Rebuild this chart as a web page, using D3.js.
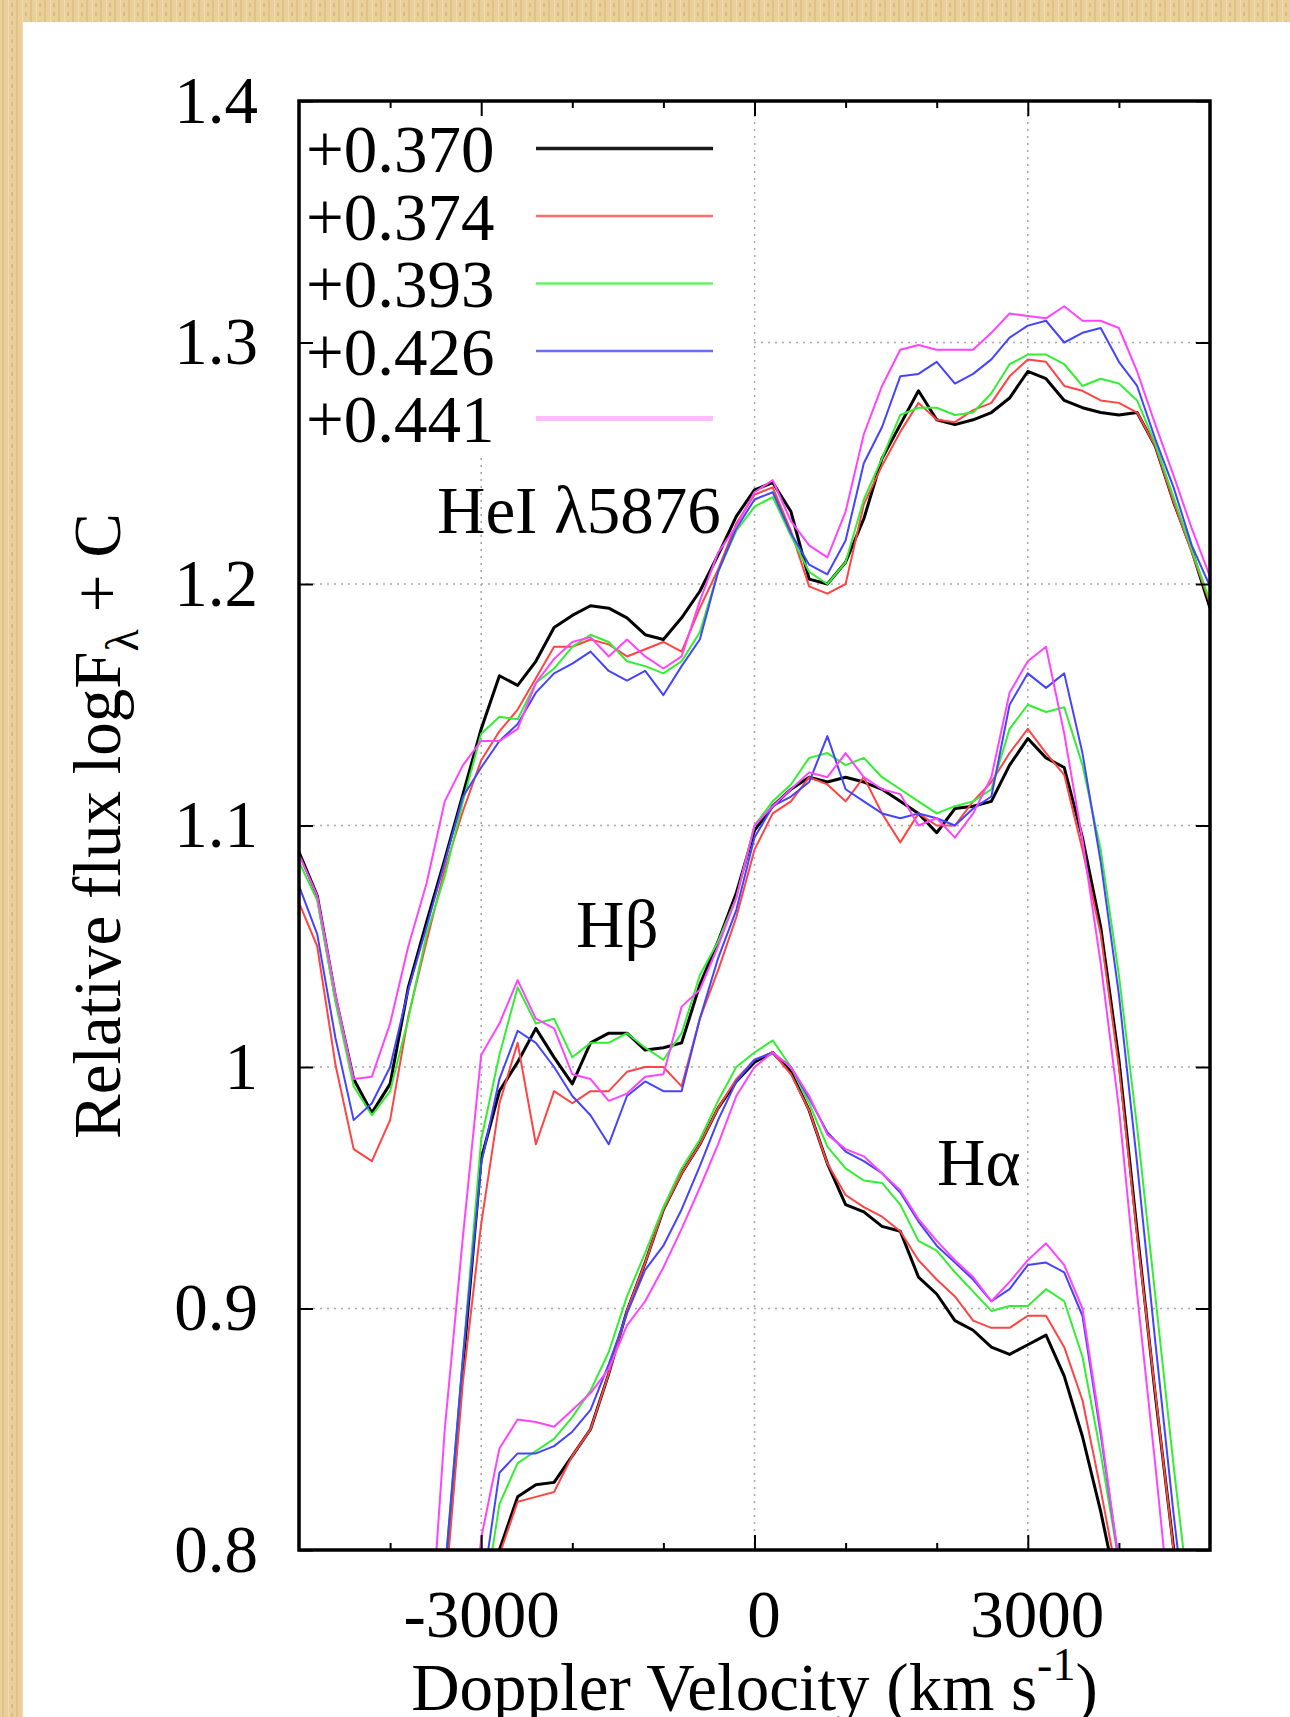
<!DOCTYPE html>
<html>
<head>
<meta charset="utf-8">
<script src="https://cdnjs.cloudflare.com/ajax/libs/d3/7.8.5/d3.min.js"></script>
<style>
  body { margin: 0; background: #e5ca93; }
  text { font-family: "Liberation Serif", "Times New Roman", serif; fill: #000; }
</style>
</head>
<body>
<div id="chart"></div>
<script>

// legend: phases of the five spectra
var phases = ["+0.370", "+0.374", "+0.393", "+0.426", "+0.441"];

// axis ticks
var yTicks = [0.8, 0.9, 1.0, 1.1, 1.2, 1.3, 1.4];
var yTickLabels = ["0.8", "0.9", "1", "1.1", "1.2", "1.3", "1.4"];
var xTicks = [-3000, 0, 3000];
var xTickLabels = ["-3000", "0", "3000"];
var xMinorTicks = [-4000, -2000, -1000, 1000, 2000, 4000];

// HeI 5876 profile (velocity in km/s, log flux + C)
var velHeI = [-5000, -4800, -4600, -4400, -4200, -4000, -3800, -3600, -3400, -3200,
  -3000, -2800, -2600, -2400, -2200, -2000, -1800, -1600, -1400, -1200,
  -1000, -800, -600, -400, -200, 0, 200, 400, 600, 800,
  1000, 1200, 1400, 1600, 1800, 2000, 2200, 2400, 2600, 2800,
  3000, 3200, 3400, 3600, 3800, 4000, 4200, 4400, 4600, 4800, 5000];
var heiBlack = [1.089, 1.071, 1.029, 0.995, 0.981, 0.993, 1.033, 1.060, 1.086, 1.113,
  1.140, 1.162, 1.158, 1.168, 1.182, 1.187, 1.191, 1.190, 1.186, 1.179,
  1.177, 1.186, 1.197, 1.212, 1.228, 1.239, 1.242, 1.230, 1.202, 1.200,
  1.209, 1.227, 1.252, 1.266, 1.280, 1.268, 1.266, 1.268, 1.271, 1.277,
  1.288, 1.285, 1.276, 1.273, 1.271, 1.270, 1.271, 1.257, 1.234, 1.214, 1.190];
var heiRed = [1.068, 1.050, 1.001, 0.966, 0.961, 0.978, 1.021, 1.052, 1.082, 1.106,
  1.127, 1.139, 1.148, 1.161, 1.174, 1.174, 1.177, 1.175, 1.170, 1.173,
  1.176, 1.172, 1.190, 1.206, 1.225, 1.237, 1.240, 1.222, 1.199, 1.196,
  1.200, 1.233, 1.249, 1.263, 1.275, 1.268, 1.267, 1.272, 1.275, 1.286,
  1.293, 1.292, 1.282, 1.280, 1.276, 1.275, 1.271, 1.257, 1.234, 1.213, 1.192];
var heiGreen = [1.085, 1.069, 1.027, 0.992, 0.980, 0.990, 1.020, 1.055, 1.079, 1.110,
  1.138, 1.145, 1.144, 1.159, 1.165, 1.174, 1.179, 1.176, 1.168, 1.166,
  1.163, 1.168, 1.180, 1.205, 1.222, 1.232, 1.236, 1.220, 1.205, 1.200,
  1.209, 1.235, 1.252, 1.270, 1.273, 1.273, 1.270, 1.271, 1.279, 1.291,
  1.295, 1.295, 1.291, 1.282, 1.285, 1.283, 1.276, 1.258, 1.236, 1.214, 1.193];
var heiBlue = [1.075, 1.055, 1.012, 0.978, 0.985, 1.000, 1.032, 1.058, 1.085, 1.112,
  1.124, 1.135, 1.142, 1.155, 1.163, 1.167, 1.172, 1.164, 1.160, 1.164,
  1.154, 1.166, 1.177, 1.205, 1.223, 1.235, 1.238, 1.221, 1.208, 1.204,
  1.218, 1.250, 1.265, 1.286, 1.287, 1.292, 1.283, 1.287, 1.293, 1.302,
  1.307, 1.309, 1.300, 1.304, 1.306, 1.292, 1.282, 1.260, 1.240, 1.216, 1.199];
var heiMagenta = [1.088, 1.071, 1.030, 0.995, 0.996, 1.018, 1.050, 1.076, 1.110, 1.125,
  1.135, 1.135, 1.140, 1.159, 1.169, 1.176, 1.178, 1.170, 1.177, 1.170,
  1.165, 1.170, 1.193, 1.213, 1.224, 1.238, 1.243, 1.226, 1.216, 1.211,
  1.230, 1.262, 1.282, 1.297, 1.299, 1.297, 1.297, 1.297, 1.304, 1.312,
  1.311, 1.310, 1.315, 1.309, 1.309, 1.306, 1.288, 1.266, 1.245, 1.223, 1.203];

// H beta profile
var velHb = [-3600, -3400, -3200, -3000, -2800, -2600, -2400, -2200, -2000, -1800,
  -1600, -1400, -1200, -1000, -800, -600, -400, -200, 0, 200,
  400, 600, 800, 1000, 1200, 1400, 1600, 1800, 2000, 2200,
  2400, 2600, 2800, 3000, 3200, 3400, 3600, 3800, 4000, 4200,
  4400, 4600, 4800];
var hbBlack = [0.700, 0.785, 0.876, 0.962, 0.990, 1.002, 1.016, 1.004, 0.993, 1.010,
  1.014, 1.014, 1.007, 1.008, 1.010, 1.034, 1.052, 1.072, 1.098, 1.108,
  1.115, 1.120, 1.118, 1.120, 1.118, 1.115, 1.110, 1.105, 1.097, 1.107,
  1.108, 1.110, 1.125, 1.136, 1.128, 1.124, 1.095, 1.058, 1.003, 0.932,
  0.864, 0.801, 0.740];
var hbRed = [0.700, 0.780, 0.870, 0.935, 0.985, 1.010, 0.968, 0.990, 0.985, 0.990,
  0.990, 0.998, 1.000, 1.000, 0.992, 1.020, 1.040, 1.062, 1.090, 1.105,
  1.110, 1.120, 1.117, 1.110, 1.120, 1.105, 1.093, 1.105, 1.100, 1.100,
  1.110, 1.118, 1.130, 1.140, 1.130, 1.121, 1.090, 1.055, 1.000, 0.930,
  0.865, 0.800, 0.740];
var hbGreen = [0.700, 0.790, 0.880, 0.970, 1.005, 1.033, 1.018, 1.020, 1.004, 1.010,
  1.010, 1.014, 1.008, 1.003, 1.014, 1.038, 1.052, 1.070, 1.100, 1.110,
  1.117, 1.128, 1.130, 1.125, 1.128, 1.120, 1.115, 1.110, 1.105, 1.108,
  1.110, 1.115, 1.140, 1.150, 1.147, 1.149, 1.125, 1.090, 1.038, 0.975,
  0.905, 0.835, 0.770];
var hbBlue = [0.700, 0.790, 0.880, 0.960, 0.995, 1.015, 1.010, 1.000, 0.988, 0.980,
  0.968, 0.988, 0.994, 0.990, 0.990, 1.020, 1.045, 1.065, 1.095, 1.108,
  1.112, 1.118, 1.137, 1.115, 1.110, 1.105, 1.103, 1.105, 1.103, 1.100,
  1.107, 1.112, 1.150, 1.163, 1.157, 1.163, 1.130, 1.085, 1.030, 0.960,
  0.886, 0.815, 0.750];
var hbMagenta = [0.740, 0.850, 0.930, 1.005, 1.018, 1.036, 1.020, 1.016, 0.997, 0.995,
  0.986, 0.989, 0.996, 0.997, 1.025, 1.032, 1.050, 1.070, 1.100, 1.108,
  1.115, 1.122, 1.120, 1.130, 1.120, 1.115, 1.113, 1.100, 1.103, 1.095,
  1.105, 1.120, 1.155, 1.168, 1.174, 1.138, 1.094, 1.043, 0.983, 0.906,
  0.835, 0.760, 0.700];

// H alpha profile
var velHa = [-3200, -3000, -2800, -2600, -2400, -2200, -2000, -1800, -1600, -1400,
  -1200, -1000, -800, -600, -400, -200, 0, 200, 400, 600,
  800, 1000, 1200, 1400, 1600, 1800, 2000, 2200, 2400, 2600,
  2800, 3000, 3200, 3400, 3600, 3800, 4000, 4200];
var haBlack = [0.700, 0.740, 0.800, 0.822, 0.827, 0.828, 0.839, 0.850, 0.873, 0.899,
  0.919, 0.941, 0.956, 0.968, 0.983, 0.994, 1.002, 1.006, 0.998, 0.982,
  0.960, 0.943, 0.940, 0.934, 0.932, 0.913, 0.906, 0.895, 0.891, 0.884,
  0.881, 0.885, 0.889, 0.872, 0.847, 0.816, 0.780, 0.740];
var haRed = [0.700, 0.740, 0.798, 0.820, 0.822, 0.824, 0.839, 0.850, 0.873, 0.899,
  0.919, 0.941, 0.956, 0.968, 0.983, 0.995, 1.003, 1.006, 0.997, 0.982,
  0.960, 0.947, 0.942, 0.938, 0.932, 0.920, 0.912, 0.905, 0.895, 0.892,
  0.892, 0.897, 0.897, 0.884, 0.862, 0.825, 0.785, 0.745];
var haGreen = [0.700, 0.770, 0.819, 0.836, 0.841, 0.846, 0.855, 0.866, 0.882, 0.905,
  0.923, 0.942, 0.958, 0.970, 0.986, 1.000, 1.006, 1.011, 1.000, 0.985,
  0.967, 0.958, 0.953, 0.952, 0.943, 0.928, 0.924, 0.915, 0.907, 0.899,
  0.901, 0.901, 0.908, 0.903, 0.880, 0.840, 0.795, 0.750];
var haBlue = [0.700, 0.780, 0.832, 0.840, 0.840, 0.843, 0.849, 0.858, 0.877, 0.898,
  0.916, 0.926, 0.941, 0.959, 0.978, 0.994, 1.003, 1.006, 1.000, 0.987,
  0.973, 0.965, 0.961, 0.956, 0.948, 0.936, 0.926, 0.919, 0.912, 0.903,
  0.908, 0.918, 0.919, 0.915, 0.897, 0.848, 0.795, 0.745];
var haMagenta = [0.730, 0.805, 0.842, 0.854, 0.853, 0.851, 0.858, 0.865, 0.875, 0.893,
  0.903, 0.917, 0.933, 0.950, 0.968, 0.988, 1.000, 1.006, 1.000, 0.988,
  0.972, 0.966, 0.963, 0.956, 0.949, 0.937, 0.928, 0.920, 0.913, 0.903,
  0.911, 0.920, 0.927, 0.918, 0.900, 0.850, 0.795, 0.745];

// line styles per phase
var colors = ["#000000", "#ff4444", "#33ee33", "#4444ff", "#ff44ff"];
var keyColors = ["#1a1a1a", "#ff6b6b", "#66f266", "#6b6bff", "#ffbbff"];
var widths = [3, 2, 2, 2, 2];
var keyWidths = [3.5, 2.5, 2.5, 2.5, 5];

var profiles = [
  {vel: velHeI, series: [heiBlack, heiRed, heiGreen, heiBlue, heiMagenta]},
  {vel: velHb, series: [hbBlack, hbRed, hbGreen, hbBlue, hbMagenta]},
  {vel: velHa, series: [haBlack, haRed, haGreen, haBlue, haMagenta]}
];

// set the dimensions and margins of the graph
var W = 1290, H = 1717;
var margin = {top: 101, left: 299};
var width = 911;
var height = 1449;

var root = d3.select("#chart")
  .append("svg")
    .attr("width", W)
    .attr("height", H);

// parchment border and white page
var defs = root.append("defs");
var pat = defs.append("pattern")
  .attr("id", "paper")
  .attr("width", 14).attr("height", 9)
  .attr("patternUnits", "userSpaceOnUse");
pat.append("rect").attr("width", 14).attr("height", 9).attr("fill", "#e8cf9b");
pat.append("rect").attr("x", 2).attr("width", 2).attr("height", 9).attr("fill", "#dfc286");
pat.append("rect").attr("x", 8).attr("width", 1).attr("height", 9).attr("fill", "#f0dcae");
pat.append("rect").attr("x", 11).attr("y", 3).attr("width", 2).attr("height", 4).attr("fill", "#dbbd7f");

root.append("rect").attr("width", W).attr("height", H).attr("fill", "url(#paper)");
root.append("rect").attr("x", 23).attr("y", 22).attr("width", W - 23).attr("height", H - 22).attr("fill", "#ffffff");

defs.append("clipPath").attr("id", "plotclip")
  .append("rect").attr("width", width).attr("height", height);

var svg = root.append("g")
  .attr("transform", "translate(" + margin.left + "," + margin.top + ")");

var x = d3.scaleLinear().domain([-5000, 5000]).range([0, width]);
var y = d3.scaleLinear().domain([0.8, 1.4]).range([height, 0]);

// dotted grid
var grid = svg.append("g").attr("class", "grid")
  .attr("stroke", "#a8a8a8").attr("stroke-width", 1.6).attr("stroke-dasharray", "2,5");
grid.selectAll(".gy")
  .data(yTicks.slice(1, -1))
  .enter().append("line")
    .attr("x1", 0).attr("x2", width)
    .attr("y1", function(d) { return y(d); })
    .attr("y2", function(d) { return y(d); });
grid.selectAll(".gx")
  .data(xTicks)
  .enter().append("line")
    .attr("x1", function(d) { return x(d); })
    .attr("x2", function(d) { return x(d); })
    .attr("y1", 0).attr("y2", height);

// opaque key box hides the grid behind the legend
svg.append("rect")
  .attr("x", 0).attr("y", 0)
  .attr("width", x(0) - 1).attr("height", 356)
  .attr("fill", "#ffffff");

// the spectra
var line = d3.line()
  .x(function(d) { return x(d[0]); })
  .y(function(d) { return y(d[1]); });

var plot = svg.append("g").attr("clip-path", "url(#plotclip)");
profiles.forEach(function(p) {
  p.series.forEach(function(vals, k) {
    var pts = p.vel.map(function(v, i) { return [v, vals[i]]; });
    plot.append("path")
      .datum(pts)
      .attr("fill", "none")
      .attr("stroke", colors[k])
      .attr("stroke-width", widths[k])
      .attr("stroke-linejoin", "round")
      .attr("d", line);
  });
});

// axes: ticks point inwards
function styleAxis(g) {
  g.select(".domain").remove();
  g.selectAll(".tick line").attr("stroke", "#000").attr("stroke-width", 2);
  g.selectAll(".tick text").style("font-size", "67px").attr("font-family", null);
}

svg.append("g")
  .call(d3.axisLeft(y).tickValues(yTicks).tickSize(-14).tickPadding(41)
    .tickFormat(function(d, i) { return yTickLabels[i]; }))
  .call(styleAxis);

svg.append("g")
  .attr("transform", "translate(" + width + ",0)")
  .call(d3.axisRight(y).tickValues(yTicks).tickSize(-14).tickFormat(""))
  .call(styleAxis);

var xAxis = svg.append("g")
  .attr("transform", "translate(0," + height + ")")
  .call(d3.axisBottom(x).tickValues(xTicks).tickSize(-15).tickPadding(39)
    .tickFormat(function(d, i) { return xTickLabels[i]; }))
  .call(styleAxis);
// gnuplot sets the unsigned labels a little to the right
xAxis.selectAll(".tick text").attr("dx", function(d) { return d < 0 ? 0 : 9; });

svg.append("g")
  .attr("transform", "translate(0," + height + ")")
  .call(d3.axisBottom(x).tickValues(xMinorTicks).tickSize(-7).tickFormat(""))
  .call(styleAxis);

svg.append("g")
  .call(d3.axisTop(x).tickValues(xTicks).tickSize(-15).tickFormat(""))
  .call(styleAxis);

svg.append("g")
  .call(d3.axisTop(x).tickValues(xMinorTicks).tickSize(-7).tickFormat(""))
  .call(styleAxis);

// frame
svg.append("rect")
  .attr("width", width).attr("height", height)
  .attr("fill", "none").attr("stroke", "#000").attr("stroke-width", 3.5);

// Handmade legend
phases.forEach(function(ph, i) {
  svg.append("text")
    .attr("x", 7).attr("y", 71 + i * 67.5)
    .style("font-size", "67px")
    .text(ph);
  svg.append("line")
    .attr("x1", 237).attr("x2", 414)
    .attr("y1", 47.5 + i * 67.5).attr("y2", 47.5 + i * 67.5)
    .attr("stroke", keyColors[i]).attr("stroke-width", keyWidths[i]);
});

// line labels
svg.append("text").attr("x", 138).attr("y", 432).style("font-size", "67px").text("HeI \u03bb5876");
svg.append("text").attr("x", 277).attr("y", 846).style("font-size", "67px").text("H\u03b2");
svg.append("text").attr("x", 638).attr("y", 1084).style("font-size", "67px").text("H\u03b1");

// axis titles
var yt = root.append("text")
  .attr("transform", "translate(120,826) rotate(-90)")
  .attr("text-anchor", "middle")
  .style("font-size", "67px");
yt.append("tspan").text("Relative flux logF");
yt.append("tspan").attr("dy", 18).style("font-size", "46px").text("\u03bb");
yt.append("tspan").attr("dy", -18).text(" + C");

var xt = root.append("text")
  .attr("x", margin.left + x(0)).attr("y", 1710)
  .attr("text-anchor", "middle")
  .style("font-size", "67px");
xt.append("tspan").text("Doppler Velocity (km s");
xt.append("tspan").attr("dy", -30).style("font-size", "46px").text("-1");
xt.append("tspan").attr("dy", 30).text(")");

</script>
</body>
</html>
